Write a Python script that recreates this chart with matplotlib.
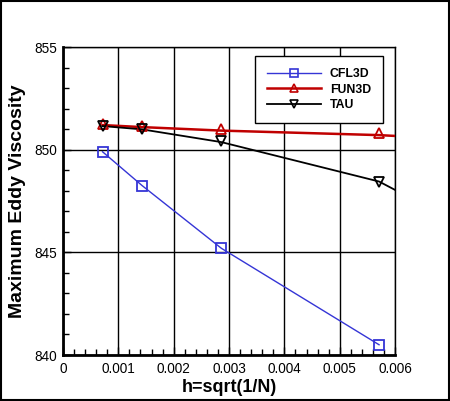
import matplotlib.pyplot as plt
from matplotlib.ticker import MultipleLocator
from matplotlib.patches import Rectangle
from matplotlib.lines import Line2D

# grid spacing h and max eddy viscosity per code
h = [0.000714, 0.00143, 0.00286, 0.00571]
cfl3d = [849.9, 848.25, 845.2, 840.5]
fun3d = [851.25, 851.15, 851.0, 850.8]
tau = [851.15, 851.0, 850.4, 848.45]

# fitted curves drawn behind the symbols (run on to h=0.006)
h_line = [0.000714, 0.00143, 0.00286, 0.00571, 0.006]
fun3d_line = [851.2, 851.1, 850.93, 850.71, 850.67]
tau_line = [851.15, 850.99, 850.37, 848.45, 848.04]

blue = '#3535d6'
red = '#c00000'

plt.rcParams['font.family'] = ['Liberation Sans', 'DejaVu Sans']

fig = plt.figure(figsize=(4.5, 4.01), dpi=100)
ax = fig.add_axes([0.14, 0.1147, 0.738, 0.768])

ax.plot(h, cfl3d, color=blue, lw=1.0, marker='s', ms=6.5, mfc='none',
        mec=blue, mew=1.3, zorder=3)
ax.plot(h_line, fun3d_line, color=red, lw=1.8, zorder=3)
ax.plot(h, fun3d, color=red, lw=0, marker='^', ms=7, mfc='none',
        mec=red, mew=1.3, zorder=4)
ax.plot(h_line, tau_line, color='black', lw=1.3, zorder=3)
ax.plot(h, tau, color='black', lw=0, marker='v', ms=7, mfc='none',
        mec='black', mew=1.3, zorder=4)

# legend proxies (line + symbol)
handles = [
    Line2D([], [], color=blue, lw=1.0, marker='s', ms=5.5, mfc='none', mec=blue, mew=1.2),
    Line2D([], [], color=red, lw=1.8, marker='^', ms=6, mfc='none', mec=red, mew=1.2),
    Line2D([], [], color='black', lw=1.3, marker='v', ms=6, mfc='none', mec='black', mew=1.2),
]
leg = ax.legend(handles, ['CFL3D', 'FUN3D', 'TAU'], loc='upper right',
                bbox_to_anchor=(0.964, 0.971), borderaxespad=0, fancybox=False,
                framealpha=1, edgecolor='black', handlelength=4.4,
                handletextpad=0.75, labelspacing=0.28, borderpad=1.0,
                prop={'weight': 'bold', 'size': 8.8})
leg.get_frame().set_linewidth(1.0)

ax.set_xlim(0, 0.006)
ax.set_ylim(840, 855)
ax.xaxis.set_major_locator(MultipleLocator(0.001))
ax.xaxis.set_minor_locator(MultipleLocator(0.0002))
ax.yaxis.set_major_locator(MultipleLocator(5))
ax.yaxis.set_minor_locator(MultipleLocator(1))
ax.set_xticks([0, 0.001, 0.002, 0.003, 0.004, 0.005, 0.006])
ax.set_xticklabels(['0', '0.001', '0.002', '0.003', '0.004', '0.005', '0.006'])

ax.grid(True, which='major', color='black', lw=1.0)
ax.set_axisbelow(True)
ax.tick_params(which='both', direction='in', top=False, right=False,
               width=1.0, labelsize=9.8)
ax.tick_params(which='major', length=6)
ax.tick_params(which='minor', length=4)
ax.tick_params(axis='x', which='major', pad=5)
ax.tick_params(axis='y', which='major', pad=4)
for s in ax.spines.values():
    s.set_linewidth(1.0)
ax.spines['left'].set_linewidth(2.0)
ax.spines['bottom'].set_linewidth(2.0)

ax.set_xlabel('h=sqrt(1/N)', fontsize=13, fontweight='bold', labelpad=2)
ax.set_ylabel('Maximum Eddy Viscosity', fontsize=14, fontweight='bold', labelpad=6)

# outer frame of the picture
fig.patches.append(Rectangle((0.002, 0.002), 0.996, 0.996, transform=fig.transFigure,
                             fill=False, edgecolor='black', lw=1.5))

fig.savefig('out.png', dpi=100)
